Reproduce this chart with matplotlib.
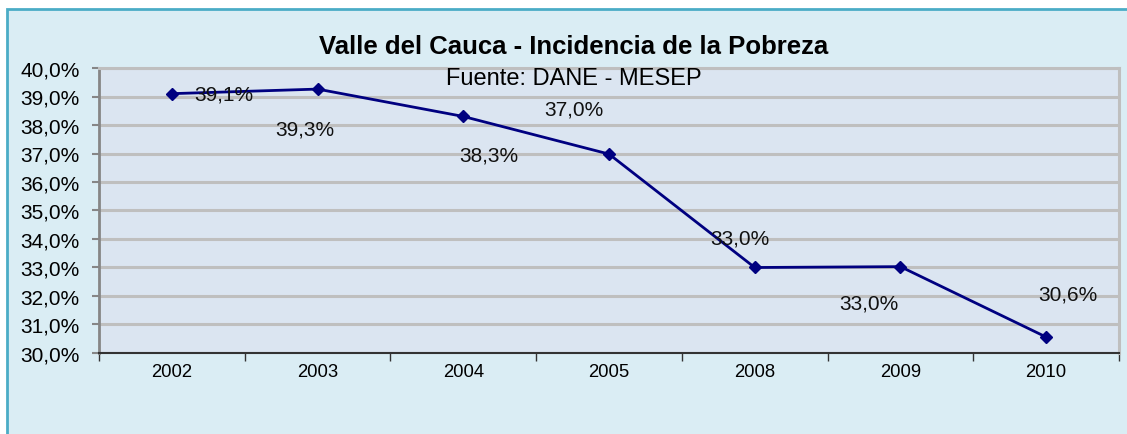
import matplotlib

matplotlib.use("Agg")
import matplotlib.pyplot as plt
from matplotlib.patches import Rectangle
from matplotlib.ticker import FixedLocator, FuncFormatter

plt.rcParams["font.family"] = ["Liberation Sans", "DejaVu Sans"]

years = ["2002", "2003", "2004", "2005", "2008", "2009", "2010"]
pobreza = [39.1, 39.26, 38.3, 36.98, 33.0, 33.03, 30.56]
labels = ["39,1%", "39,3%", "38,3%", "37,0%", "33,0%", "33,0%", "30,6%"]
# label offsets in pixels (Excel placed them by hand)
label_dx = [52, -13, 26, -35, -15, -32, 22]
label_dy = [0, -40, -39, 45, 29, -36, 43]

W, H = 1127, 435
fig = plt.figure(figsize=(W / 100, H / 100), dpi=100, facecolor="white")

# chart area frame (runs off right/bottom edge)
frame = Rectangle((7 / W, -0.05), 1.1, (H - 10) / H + 0.05, transform=fig.transFigure,
                  facecolor="#DAEDF4", edgecolor="#4BACC6", linewidth=2, zorder=-5)
fig.patches.append(frame)

ax = fig.add_axes([99 / W, 81 / H, 1020 / W, 285 / H])
ax.set_zorder(1)
ax.set_facecolor("#DBE5F1")

x = list(range(len(years)))
ax.plot(x, pobreza, color="#000080", linewidth=2, marker="D", markersize=6.5, zorder=3)

for i, (v, lab) in enumerate(zip(pobreza, labels)):
    ax.annotate(lab, (i, v), xytext=(label_dx[i], label_dy[i]), textcoords="offset pixels",
                ha="center", va="center", fontsize=15, color="#111111", zorder=4)

ax.set_xlim(-0.5, len(years) - 0.5)
ax.set_ylim(30, 40)
ax.set_yticks(range(30, 41))
ax.yaxis.set_major_formatter(FuncFormatter(lambda v, p: f"{v:.1f}%".replace(".", ",")))
ax.grid(axis="y", color="#BFBFBF", linewidth=2.2)
ax.set_axisbelow(True)

ax.set_xticks(x)
ax.set_xticklabels(years, fontsize=13.3)
ax.xaxis.set_minor_locator(FixedLocator([i - 0.5 for i in range(len(years) + 1)]))
ax.tick_params(axis="x", which="major", length=0, pad=7)
ax.tick_params(axis="x", which="minor", length=6, width=1, color="#333333", direction="out")
ax.tick_params(axis="y", length=5, width=1.5, color="#868686", labelsize=15, pad=9)

ax.spines["left"].set_color("#868686")
ax.spines["left"].set_linewidth(2)
ax.spines["bottom"].set_color("#333333")
ax.spines["bottom"].set_linewidth(1.5)
ax.spines["right"].set_color("#BFBFBF")
ax.spines["right"].set_linewidth(2.2)
ax.spines["top"].set_color("#BFBFBF")
ax.spines["top"].set_linewidth(2.2)

fig.text(574 / W, 1 - 47 / H, "Valle del Cauca - Incidencia de la Pobreza",
         ha="center", va="center", fontsize=18.5, fontweight="bold", zorder=5)
fig.text(574 / W, 1 - 79 / H, "Fuente: DANE - MESEP", ha="center", va="center",
         fontsize=17, zorder=5)

fig.savefig("out.png", dpi=100, facecolor=fig.get_facecolor())
